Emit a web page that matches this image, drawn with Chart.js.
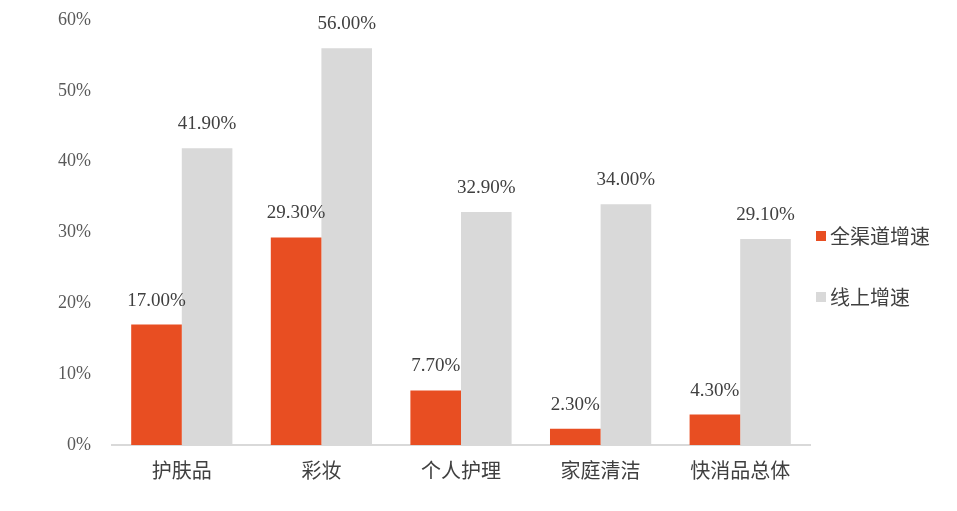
<!DOCTYPE html>
<html><head><meta charset="utf-8">
<script src="https://cdn.jsdelivr.net/npm/chart.js@4"></script>
<style>html,body{margin:0;padding:0;background:#fff}#wrap{width:957px;height:511px;position:relative}</style>
</head><body><div id="wrap"><canvas id="c"></canvas></div>
<script>
const categories = ['护肤品','彩妆','个人护理','家庭清洁','快消品总体'];
const allChannel = [17.00, 29.30, 7.70, 2.30, 4.30];
const online = [41.90, 56.00, 32.90, 34.00, 29.10];
const seriesNames = ['全渠道增速','线上增速'];
const yTicks = [0,10,20,30,40,50,60];

const serif = '"Liberation Serif","DejaVu Serif",serif';
const cjk = '"Noto Sans CJK SC","Noto Sans",sans-serif';

const labelPlugin = {
  id:'labels',
  afterDatasetsDraw(chart){
    const ctx = chart.ctx;
    ctx.save();
    ctx.font = '19px ' + serif;
    ctx.fillStyle = '#404040';
    ctx.textAlign = 'center';
    ctx.textBaseline = 'middle';
    chart.data.datasets.forEach((ds,i)=>{
      chart.getDatasetMeta(i).data.forEach((el,j)=>{
        ctx.fillText(ds.data[j].toFixed(2)+'%', el.x, el.y - 24);
      });
    });
    ctx.restore();
  }
};
const legendPlugin = {
  id:'customLegend',
  afterDraw(chart){
    const ctx = chart.ctx;
    const a = chart.chartArea;
    ctx.save();
    ctx.font = '20px ' + cjk;
    ctx.textBaseline = 'middle';
    chart.data.datasets.forEach((ds,i)=>{
      const y = 236 + i*61;
      ctx.fillStyle = ds.backgroundColor;
      ctx.fillRect(a.right + 6, y-5, 10, 10);
      ctx.fillStyle = '#404040';
      ctx.fillText(ds.label, a.right + 20, y);
    });
    ctx.restore();
  }
};

new Chart(document.getElementById('c'), {
  type:'bar',
  data:{labels:categories, datasets:[
    {label:seriesNames[0], data:allChannel, backgroundColor:'#E84E22'},
    {label:seriesNames[1], data:online, backgroundColor:'#D9D9D9'}
  ]},
  options:{
    responsive:true, maintainAspectRatio:false, animation:false,
    layout:{padding:{left:0,right:147,top:20,bottom:0}},
    datasets:{bar:{categoryPercentage:0.725, barPercentage:1}},
    plugins:{legend:{display:false}, tooltip:{enabled:false}},
    scales:{
      x:{
        grid:{display:false, drawTicks:false},
        border:{display:true,color:'#D9D9D9',width:2},
        ticks:{font:{family:cjk,size:20},color:'#404040',padding:13},
        afterFit(s){ s.height = 66; s.paddingLeft = 0; s.paddingRight = 0; }
      },
      y:{
        min:0,max:60,
        grid:{display:false, drawTicks:false},
        border:{display:false},
        afterBuildTicks(s){ s.ticks = yTicks.map(v=>({value:v})); },
        ticks:{font:{family:serif,size:18},color:'#595959',padding:21,callback:v=>v+'%'},
        afterFit(s){ s.width = 112; s.paddingTop = 0; s.paddingBottom = 0; }
      }
    }
  },
  plugins:[labelPlugin, legendPlugin]
});
</script></body></html>
